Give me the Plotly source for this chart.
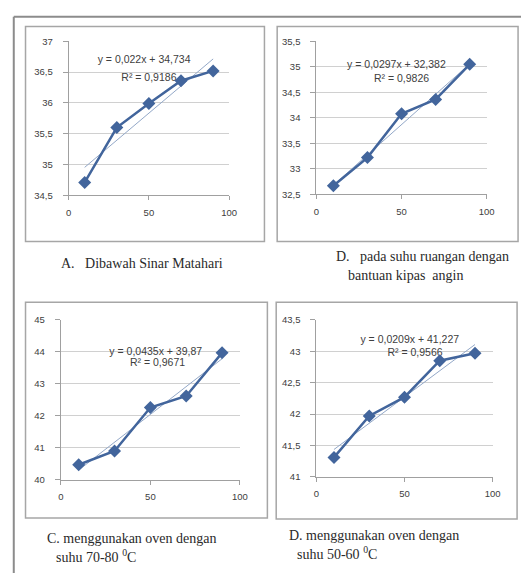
import plotly.graph_objects as go

# ---------------- data ----------------
x_vals = [10, 30, 50, 70, 90]
temp_a = [34.71, 35.60, 35.99, 36.36, 36.52]
temp_b = [32.67, 33.22, 34.08, 34.36, 35.05]
temp_c = [40.47, 40.90, 42.26, 42.62, 43.97]
temp_d = [41.31, 41.97, 42.27, 42.85, 42.97]
series = [temp_a, temp_b, temp_c, temp_d]

slopes = [0.022, 0.0297, 0.0435, 0.0209]
intercepts = [34.734, 32.382, 39.87, 41.227]
eq_labels = ["y = 0,022x + 34,734", "y = 0,0297x + 32,382",
             "y = 0,0435x + 39,87", "y = 0,0209x + 41,227"]
r2_labels = ["R² = 0,9186", "R² = 0,9826", "R² = 0,9671", "R² = 0,9566"]

y_ranges = [(34.5, 37), (32.5, 35.5), (40, 45), (41, 43.5)]
y_dticks = [0.5, 0.5, 1, 0.5]
x_tickvals = [0, 50, 100]

# equation label positions (data coords of each panel)
eq_pos = [(47, 36.69), (47, 35.02), (53, 44.0), (53, 43.17)]
r2_pos = [(50, 36.40), (50, 34.75), (54, 43.64), (56, 42.97)]

W, H = 529, 578
def px(x): return x / W
def py(y): return 1 - y / H

# plot areas in pixels: (left, right, top, bottom)
areas = [(67, 231, 36, 193), (320, 494, 36, 192), (59, 242, 320, 483), (320, 500, 320, 480)]
boxes = [(23, 267, 21, 240), (280, 526, 21, 240), (23, 270, 302, 522), (279, 525, 302, 523)]

LINE = "#42659C"
TREND = "#93A8C8"
TICKFONT = dict(family="Liberation Sans", size=9.5, color="#404040")

fig = go.Figure()
for i in range(4):
    xa = "x" if i == 0 else f"x{i+1}"
    ya = "y" if i == 0 else f"y{i+1}"
    # equation text (beneath the data line)
    fig.add_trace(go.Scatter(x=[eq_pos[i][0], r2_pos[i][0]], y=[eq_pos[i][1], r2_pos[i][1]],
                             mode="text", text=[eq_labels[i], r2_labels[i]],
                             textfont=dict(family="Liberation Sans", size=10.5, color="#404040"),
                             xaxis=xa, yaxis=ya, showlegend=False, hoverinfo="skip"))
    # trendline
    tx = [x_vals[0], x_vals[-1]]
    ty = [slopes[i] * v + intercepts[i] for v in tx]
    fig.add_trace(go.Scatter(x=tx, y=ty, mode="lines", line=dict(color=TREND, width=1),
                             xaxis=xa, yaxis=ya, showlegend=False, hoverinfo="skip"))
    # data
    fig.add_trace(go.Scatter(x=x_vals, y=series[i], mode="lines+markers",
                             line=dict(color=LINE, width=2.5),
                             marker=dict(symbol="diamond", size=10, color=LINE),
                             xaxis=xa, yaxis=ya, showlegend=False))

layout = dict(width=W, height=H, margin=dict(l=0, r=0, t=0, b=0),
              paper_bgcolor="white", plot_bgcolor="white", separators=", ",
              showlegend=False)
for i in range(4):
    l, r, t, b = areas[i]
    xk = "xaxis" if i == 0 else f"xaxis{i+1}"
    yk = "yaxis" if i == 0 else f"yaxis{i+1}"
    layout[xk] = dict(domain=[px(l), px(r)], range=[0, 100], tickvals=x_tickvals,
                      showgrid=False, zeroline=False, showline=True, linecolor="#A0A0A0",
                      linewidth=1, ticks="outside", ticklen=4, tickcolor="#A0A0A0",
                      tickfont=TICKFONT, ticklabelstandoff=4,
                      anchor="y" if i == 0 else f"y{i+1}", fixedrange=True)
    layout[yk] = dict(domain=[py(b), py(t)], range=list(y_ranges[i]), dtick=y_dticks[i],
                      showgrid=True, gridcolor="#D0D0D0", gridwidth=1, zeroline=False,
                      showline=True, linecolor="#A0A0A0", linewidth=1, ticks="outside",
                      ticklen=5, tickcolor="#A0A0A0", tickfont=TICKFONT,
                      ticklabelstandoff=8,
                      anchor="x" if i == 0 else f"x{i+1}", fixedrange=True)
fig.update_layout(**layout)

shapes = []
for (l, r, t, b) in boxes:
    shapes.append(dict(type="rect", xref="paper", yref="paper", x0=px(l), x1=px(r),
                       y0=py(b), y1=py(t), line=dict(color="#A6A6A6", width=1.5)))
# outer frame (top and left edges)
shapes.append(dict(type="line", xref="paper", yref="paper", x0=px(11), x1=1, y0=py(11), y1=py(11),
                   line=dict(color="#8C8C8C", width=2)))
shapes.append(dict(type="line", xref="paper", yref="paper", x0=px(11), x1=px(11), y0=0, y1=py(11),
                   line=dict(color="#8C8C8C", width=2)))
fig.update_layout(shapes=shapes)

CAPFONT = dict(family="Liberation Serif", size=14, color="#2A2A2A")
captions = [
    (57, 262, "A.\u00a0\u00a0 Dibawah Sinar Matahari"),
    (338, 255, "D.\u00a0\u00a0 pada suhu ruangan dengan"),
    (350, 275, "bantuan kipas\u00a0 angin"),
    (43, 543, "C. menggunakan oven dengan"),
    (52, 561, "suhu 70-80 <sup>0</sup>C"),
    (290, 540, "D. menggunakan oven dengan"),
    (298, 558, "suhu 50-60 <sup>0</sup>C"),
]
for (x, y, t) in captions:
    fig.add_annotation(x=px(x), y=py(y), xref="paper", yref="paper", text=t,
                       showarrow=False, xanchor="left", yanchor="middle", font=CAPFONT)

fig.write_html("out.html", config={"displayModeBar": False},
               post_script="document.body.style.margin='0';document.body.style.overflow='hidden';")
